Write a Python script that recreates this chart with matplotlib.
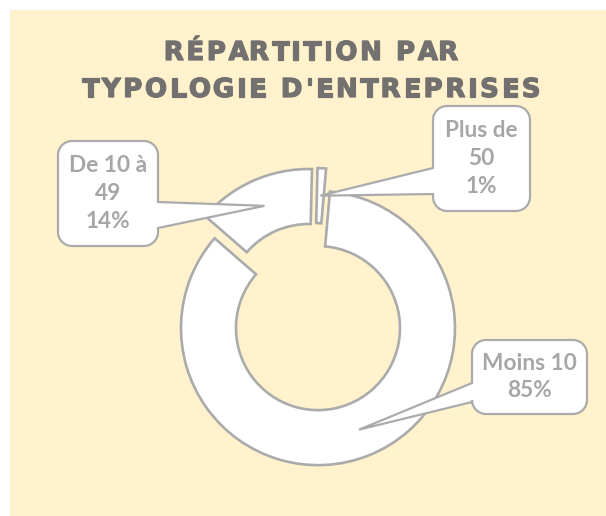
import numpy as np
import matplotlib.pyplot as plt
import matplotlib.patheffects as pe
from matplotlib.path import Path
from matplotlib.patches import PathPatch, Rectangle
from matplotlib.font_manager import FontProperties

# data
categories = ['Moins 10', 'De 10 à 49', 'Plus de 50']
label_names = ['Moins 10', 'De 10 à\n49', 'Plus de\n50']
values = [85, 14, 1]
title_lines = ['RÉPARTITION PAR', "TYPOLOGIE D'ENTREPRISES"]

W, H = 606, 516
BG = '#FFF2CC'
EDGE = '#ABABAB'
LABEL = '#A6A6A6'
TITLE = '#737070'


def Y(y):
    # picture rows run top-down, axes run bottom-up
    return H - y


def callout(box, side, base, tip, r=14):
    """Rounded box with a pointer, built in top-down pixels."""
    x0, y0, x1, y1 = box
    tx, ty = tip
    pts = []

    def arc(cx, cy, a0, a1):
        for a in np.linspace(np.radians(a0), np.radians(a1), 10):
            pts.append((cx + r * np.cos(a), cy + r * np.sin(a)))

    arc(x0 + r, y0 + r, 180, 270)
    arc(x1 - r, y0 + r, 270, 360)
    if side == 'right':
        pts += [(x1, base[0]), (tx, ty), (x1, base[1])]
    arc(x1 - r, y1 - r, 0, 90)
    arc(x0 + r, y1 - r, 90, 180)
    if side == 'left':
        pts += [(x0, base[1]), (tx, ty), (x0, base[0])]
    pts.append(pts[0])
    verts = [(x, Y(y)) for x, y in pts]
    codes = [Path.MOVETO] + [Path.LINETO] * (len(verts) - 2) + [Path.CLOSEPOLY]
    return Path(verts, codes)


fig = plt.figure(figsize=(W / 100, H / 100), dpi=100, facecolor='white')
ax = fig.add_axes([0, 0, 1, 1])
ax.add_patch(Rectangle((10, 0), W - 10, H - 10, facecolor=BG, edgecolor='none', zorder=0))

R = 137
wedges, _ = ax.pie(values, radius=R, center=(313.5, Y(317)), startangle=85,
                   counterclock=False, explode=[12, 12, 12], frame=True,
                   wedgeprops=dict(width=55, facecolor='white', edgecolor=EDGE,
                                   linewidth=1.9, joinstyle='miter'))
ax.set_xlim(0, W)
ax.set_ylim(0, H)
ax.axis('off')

# tips of the callouts sit in the middle of each ring piece
tips = []
for w in wedges:
    mid = np.radians((w.theta1 + w.theta2) / 2)
    rm = w.r - w.width / 2
    tips.append((w.center[0] + rm * np.cos(mid), Y(w.center[1] + rm * np.sin(mid))))

# box, side of pointer, pointer base (top-down px)
layout = [
    ((472, 340, 587, 414), 'left', (383, 402)),
    ((58, 141, 158, 246), 'right', (202, 228)),
    ((433, 106, 530, 211), 'left', (168, 194)),
]
lab_font = FontProperties(family='Lato', weight='bold', size=16.3)
total = sum(values)
for (box, side, base), tip, name, v in zip(layout, tips, label_names, values):
    ax.add_patch(PathPatch(callout(box, side, base, tip), facecolor='white',
                           edgecolor=EDGE, linewidth=1.6, zorder=5))
    cx = (box[0] + box[2]) / 2
    cy = (box[1] + box[3]) / 2
    ax.text(cx, Y(cy), f"{name}\n{v / total * 100:.0f}%", ha='center', va='center',
            fontproperties=lab_font, color=LABEL, linespacing=1.4, zorder=6)

# title with letter spacing
tfont = FontProperties(family='DejaVu Sans', weight='bold', size=18.8)
rend = fig.canvas.get_renderer()
def twidth(s):
    return rend.get_text_width_height_descent(s, tfont, ismath=False)[0] if s else 0.0

target = 459
track = (target - twidth(title_lines[1])) / (len(title_lines[1]) - 1)
thick = [pe.withStroke(linewidth=0.9, foreground=TITLE)]
for line, base_y in zip(title_lines, [60, 97]):
    full = twidth(line) + track * (len(line) - 1)
    x0 = 311 - full / 2
    for i, ch in enumerate(line):
        ax.text(x0 + twidth(line[:i]) + track * i, Y(base_y), ch, fontproperties=tfont,
                color=TITLE, ha='left', va='baseline', path_effects=thick)

fig.savefig('out.png', dpi=100, facecolor='white')
